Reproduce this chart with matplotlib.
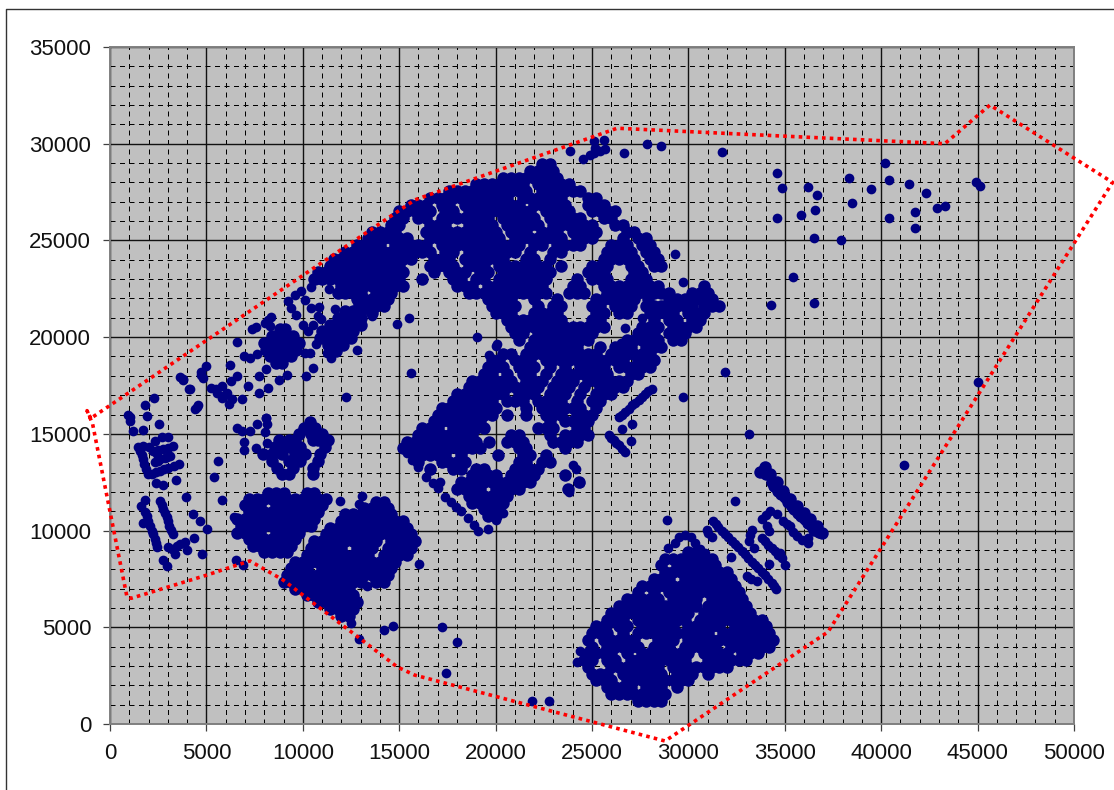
"""
plot.py
Site survey scatter: building points inside a dotted boundary.
Output: out.png
"""

import matplotlib
matplotlib.use("Agg")
import matplotlib.pyplot as plt
from matplotlib.lines import Line2D

X_TICKS = [0, 5000, 10000, 15000, 20000, 25000, 30000, 35000, 40000, 45000, 50000]
Y_TICKS = [0, 5000, 10000, 15000, 20000, 25000, 30000, 35000]
X_MINOR = [v for v in range(0, 50001, 1000) if v % 5000]
Y_MINOR = [v for v in range(0, 35001, 1000) if v % 5000]

boundary_x = [-1000, -1190, -900, 880, 1100, 5030, 6590, 7260, 8970, 14900, 15800, 28790,
              37240, 52000, 45640, 43300, 26300, 15820, -1000]
boundary_y = [15800, 16200, 15500, 6570, 6500, 7700, 8220, 8430, 7450, 2950, 2530, -880,
              4760, 28000, 32000, 30000, 30800, 27100, 15800]

# loose points, read one by one
lone_pts = [
    (950, 15950), (1040, 15860), (1040, 15690), (1210, 15140), (1700, 15220), (2560, 15520),
    (1900, 15900), (1820, 16470), (2280, 16840), (3770, 17820), (3630, 17930), (3810, 17760),
    (4080, 17330), (4410, 16260), (4590, 16500), (4500, 16380), (4740, 18020), (4700, 18200),
    (4840, 17880), (4970, 18500), (4160, 17300), (6210, 18540), (6590, 17990), (6250, 17730),
    (7150, 17470), (7720, 17970), (8100, 18330), (7720, 17110), (8180, 17390), (8740, 17780),
    (9200, 18040), (10150, 17970), (10540, 18430), (6850, 16820), (12230, 16920), (8100, 15840),
    (5220, 17390), (5480, 17300), (5820, 17470), (6080, 17130), (6330, 16780), (6160, 16520),
    (5820, 16870), (5560, 17130), (5950, 17000), (6590, 19760), (6930, 19020), (7240, 18930),
    (7620, 19140), (7360, 20430), (7580, 20530), (8210, 20910), (8040, 20740), (8300, 20600),
    (8350, 21050), (10100, 19190), (10350, 19190), (10690, 19660), (11260, 19190), (11460, 18930),
    (12800, 19360), (11690, 21460), (10450, 22600), (11380, 22490), (13570, 21080), (14880, 20700),
    (15500, 20970), (15620, 18130), (19040, 20030), (20000, 19550), (19650, 19090), (20060, 19650),
    (29300, 24280), (29700, 22870), (26720, 20490), (27590, 20970), (26490, 19690), (31920, 18220),
    (29700, 16930), (33140, 15000), (28880, 10540), (45020, 17680), (41180, 13390),
    (9240, 21860), (9580, 22200), (9920, 22370), (10100, 21940), (10440, 21510), (10780, 21080),
    (10520, 20650), (10270, 20310), (10000, 20650), (9670, 21170), (9410, 21510), (10830, 21560),
    (10950, 20960), (10690, 22980), (11210, 23230), (11630, 23490), (12230, 23840), (12600, 24100),
    (6570, 15310), (6870, 15140), (7270, 15140), (7610, 15520), (8100, 15810), (8130, 15520),
    (8040, 15090), (6950, 14570), (6950, 14190), (7560, 14280), (8160, 14530), (5620, 13620),
    (5410, 12780), (5810, 11600), (3940, 11760), (4290, 10860), (4670, 10470), (5030, 10090),
    (4380, 9620), (4760, 8780), (3030, 9140), (3460, 9220), (3890, 9400), (3370, 8790),
    (3980, 8970), (2770, 8500), (2980, 8190), (3200, 9050), (3650, 9300),
    (1470, 14310), (1640, 13910), (1760, 13450), (1950, 12930), (1730, 14360), (2340, 14650),
    (2680, 14830), (3030, 14850), (2250, 14090), (2770, 14220), (3290, 14360), (2510, 14150),
    (2340, 13530), (2600, 13700), (3120, 13850), (2850, 13770), (2160, 12930), (2600, 13100),
    (3030, 13240), (3580, 13450), (2390, 12470), (2770, 12380), (3430, 12640),
    (1550, 14100), (1700, 13680), (1850, 13200), (2000, 14300), (2450, 13950), (3000, 14290),
    (2500, 13610), (2970, 13800), (2380, 13020), (2810, 13170), (3300, 13350),
    (1820, 11600), (1590, 11260), (1820, 10950), (1990, 10520), (2160, 10000), (2340, 9570),
    (2460, 9140), (1730, 10400), (2080, 10250), (1900, 10750), (2250, 9800), (2400, 9350),
    (2600, 11550), (2770, 11120), (2940, 10690), (3080, 10260), (3250, 9830), (2690, 11330),
    (2860, 10900), (3010, 10470), (3170, 10040),
    (11940, 11520), (13060, 11810), (12890, 11380), (13320, 7150), (12490, 5220), (12890, 4400),
    (14190, 4860), (14670, 5050), (17430, 2640), (18000, 4240), (17220, 5020), (16030, 8270),
    (21890, 1190), (22770, 1190), (6440, 10690), (6540, 8500), (6920, 8220),
    (15380, 13990), (15640, 13650), (15980, 13300), (16410, 12790), (16670, 13130), (16750, 12450),
    (17100, 12530), (17010, 12190), (17400, 11730), (17690, 11500), (17950, 11240), (18200, 10990),
    (18560, 10640), (18900, 10300), (19090, 9990), (19600, 10060), (20020, 10560), (20360, 10900),
    (24040, 13380), (24170, 13200), (23600, 12850), (24380, 12470), (23800, 11990),
    (25870, 14930), (26130, 14670), (26390, 14420), (26700, 14040), (27000, 14620), (26560, 15270),
    (27070, 15530), (26000, 14800), (26260, 14550), (26550, 14230),
    (26390, 15870), (26560, 16000), (26730, 16130), (26900, 16300), (27070, 16470), (27250, 16600),
    (27420, 16730), (27590, 16900), (27760, 17070), (27930, 17200), (28100, 17330),
]

# far north east and along the top of the site
ne_pts = [
    (31720, 29580), (34580, 28510), (34860, 27720), (36180, 27740), (36670, 27360), (36580, 26590),
    (35820, 26310), (34580, 26180), (36490, 25130), (37930, 25030), (38310, 28230), (39460, 27640),
    (38500, 26960), (40220, 29000), (40430, 28130), (40410, 26180), (41450, 27940), (42320, 27450),
    (41770, 26480), (41750, 25630), (42910, 26680), (43290, 26760), (44910, 28040), (45110, 27810),
    (35450, 23110), (34270, 21650), (36490, 21760), (23860, 29600), (25100, 30150), (25640, 30200),
    (25680, 29720), (25160, 29770), (24900, 29420), (24550, 29210), (25100, 29520), (25400, 29600),
    (26680, 29520), (27830, 30010), (28580, 29900),
]

# thin bar and short strings north east of the south east block
se_thin_pts = [
    (31260, 10490), (31410, 10330), (31560, 10180),
    (31730, 10000), (31900, 9830), (32070, 9650), (32250, 9480), (32420, 9300), (32590, 9130),
    (32760, 8950), (32940, 8780), (33110, 8580), (33290, 8390), (33460, 8210), (33630, 8040),
    (33800, 7860), (33980, 7690), (34150, 7500), (34320, 7310), (34530, 6960), (34430, 7130),
    (31040, 9880), (30950, 10050), (31210, 9670), (32210, 8650), (33230, 7510), (33550, 7380),
    (33060, 7650), (34200, 8250), (32420, 11510), (33290, 10050), (33120, 9440), (33390, 9090),
    (33200, 9750), (33800, 10580), (34240, 11020), (34000, 10800), (34580, 10840), (34930, 10490),
    (35100, 10350), (35280, 10230), (35450, 9950), (35620, 9700), (36220, 9350), (36220, 9620),
    (35880, 9530), (34200, 9970), (34070, 10230), (33800, 9620), (33970, 9450), (34150, 9270),
    (34320, 9100), (34500, 8920), (34670, 8750), (34840, 8570), (35020, 8220), (34770, 8830),
    (24380, 3790), (24200, 3230), (29310, 9350), (29530, 9650), (29830, 9790), (30120, 9650),
    (30350, 9350), (30610, 9060), (28960, 9120), (30860, 8830), (25100, 4900), (25500, 5000),
    (25900, 5150),
]

# the thick bar, drawn with the dense rows
se_thick_pts = [
    (33980, 13290), (33720, 13030), (34240, 12940), (34580, 12500), (34930, 12070), (35280, 11630),
    (35620, 11280), (35970, 10930), (36310, 10580), (36660, 10230), (36920, 9880), (34320, 12500),
    (34670, 12070), (35020, 11720), (35360, 11280), (35710, 10930), (36050, 10580), (36400, 10230),
    (36750, 9950), (34000, 12950), (34450, 12300), (34800, 11900), (35150, 11480), (35490, 11100),
    (35840, 10750), (36180, 10400), (36530, 10050),
]

# dense parts, one (y, xs) row per line of the picture
blob_nw_rows = [
    (20400, [8800, 9100]),
    (20050, [8400, 8800, 9200, 9500]),
    (19700, [8000, 8350, 8750, 9150, 9550, 9800]),
    (19350, [8100, 8500, 8900, 9300, 9650]),
    (19000, [8300, 8700, 9100, 9400]),
    (18650, [8600, 8900]),
    (21700, [12900]),
    (21350, [12200, 12600, 13000]),
    (21000, [11800, 12200, 12600, 13000]),
    (20650, [11400, 11800, 12200, 12600, 13000]),
    (20300, [11000, 11400, 11800, 12200, 12600]),
    (19950, [10900, 11300, 11700, 12100, 12500]),
    (19600, [11300, 11700, 12100]),
    (19300, [11700]),
]

ring_west_rows = [
    (15600, [10380]),
    (15300, [10040, 10640]),
    (15000, [9780, 10400, 10990]),
    (14700, [8740, 9260, 9600, 10550, 10810, 11330]),
    (14300, [8560, 9000, 9340, 9860, 11160]),
    (13950, [7960, 8390, 8910, 9600, 10120, 10900]),
    (13600, [8390, 9260, 9860, 10810]),
    (13250, [8650, 9510, 10550]),
    (12950, [8910, 9260, 10550]),
]

oval_rows = [
    (11950, [8200, 8600, 9000, 10200, 10600]),
    (11650, [7200, 7600, 8000, 8400, 8800, 9200, 9600, 10000, 10400, 10800, 11200]),
    (11300, [7000, 7400, 7800, 8600, 9000, 9400, 9800, 10200, 10600, 11000]),
    (10950, [7200, 7600, 8000, 8400, 8800, 9200, 9600, 10000, 10400, 10800]),
    (10600, [6600, 7000, 7400, 7800, 8200, 8600, 9000, 9400, 9800, 10200, 10600]),
    (10250, [6800, 7200, 7600, 8000, 8400, 8800, 9200, 9600, 10000, 10400]),
    (9900, [6600, 7000, 7400, 7800, 8600, 9000, 9400, 9800]),
    (9550, [7200, 7600, 8000, 8400, 8800, 9200, 9600]),
    (9200, [7400, 7800, 8200, 8600, 9000, 9400]),
    (8900, [8000, 8400, 8800, 9200]),
]

sw_block_rows = [
    (11500, [13800, 14200]),
    (11150, [13200, 13600, 14000, 14400]),
    (10850, [12200, 12600, 13000, 13400, 13800, 14200, 14600]),
    (10500, [12000, 12400, 12800, 13200, 13600, 14000, 14400, 14800, 15200]),
    (10150, [11400, 11800, 12200, 12600, 13000, 13400, 13800, 14200, 14600, 15000, 15400]),
    (9800, [11200, 11600, 12000, 12400, 12800, 13200, 13600, 14000, 14400, 14800, 15200, 15600]),
    (9450, [10600, 11000, 11400, 11800, 12200, 12600, 13000, 13400, 13800, 14600, 15000, 15400, 15800]),
    (9100, [10400, 10800, 11200, 11600, 12000, 12800, 13200, 13600, 14400, 14800, 15200, 15600]),
    (8750, [10200, 10600, 11000, 11400, 11800, 12200, 12600, 13000, 13400, 14200, 14600, 15000, 15400]),
    (8400, [9600, 10000, 10400, 10800, 11200, 11600, 12000, 12400, 12800, 13200, 13600, 14000, 14400, 14800]),
    (8050, [9400, 9800, 10200, 11000, 11400, 11800, 12200, 12600, 13000, 13400, 13800, 14200, 14600]),
    (7700, [9200, 9600, 10000, 10400, 10800, 11200, 11600, 12000, 12400, 12800, 13200, 13600, 14000, 14400]),
    (7350, [9000, 9400, 9800, 10200, 10600, 11000, 11400, 11800, 12200, 12600, 13000, 13800, 14200]),
    (7000, [9600, 10000, 10400, 10800, 11200, 11600, 12000, 12400]),
    (6650, [10200, 10600, 11000, 11400, 11800, 12200, 12600]),
    (6300, [10800, 11200, 11600, 12000, 12400, 12800]),
    (5950, [11400, 11800, 12200, 12600]),
    (5600, [12000, 12400]),
]

central_rows = [
    (28950, [22400, 22800]),
    (28600, [21800, 22200, 22600, 23000]),
    (28250, [20400, 20800, 21200, 21600, 22000, 22400, 22800, 23200]),
    (27900, [19000, 19400, 19800, 20200, 20600, 21000, 21400, 22200, 22600, 23000, 23400, 23800]),
    (27550, [17600, 18000, 18400, 18800, 19200, 19600, 20000, 20400, 20800, 21200, 21600, 22400, 22800, 23200,
              23600, 24000, 24400]),
    (27200, [16600, 17000, 17400, 17800, 18200, 18600, 19000, 19400, 19800, 20200, 20600, 21400, 21800, 22200,
              22600, 23000, 23400, 24800, 25200]),
    (26850, [15600, 16000, 16400, 17200, 17600, 18400, 18800, 19200, 19600, 20000, 20400, 20800, 21200, 22000,
              22400, 22800, 23200, 23600, 24800, 25200, 25600]),
    (26500, [15000, 15400, 15800, 16200, 16600, 17400, 17800, 18600, 19000, 19400, 19800, 20200, 20600, 21000,
              21400, 21800, 22600, 23000, 23400, 23800, 25000, 25400, 25800, 26200]),
    (26150, [14800, 15200, 16000, 16400, 17200, 17600, 18000, 18400, 18800, 19200, 19600, 20400, 20800, 21200,
              21600, 22000, 22800, 23200, 23600, 24000, 24400, 25600, 26000]),
    (25800, [14600, 15000, 16600, 17000, 17400, 18600, 19000, 19400, 19800, 20600, 21000, 21400, 21800, 22200,
              23000, 23400, 23800, 24200, 24600, 25000, 26200, 26600]),
    (25450, [13600, 14000, 14400, 14800, 16400, 16800, 17200, 17600, 18000, 18400, 18800, 19200, 19600, 20000,
              20800, 21200, 21600, 22400, 22800, 23200, 24000, 24400, 24800, 25200, 26800, 27200]),
    (25100, [13400, 13800, 14200, 14600, 15000, 15400, 16600, 17000, 17400, 17800, 18200, 18600, 19000, 19400,
              19800, 20200, 21000, 21400, 21800, 22200, 22600, 23000, 23400, 24200, 24600, 25000, 26600, 27400,
              27800]),
    (24750, [12800, 13200, 13600, 14000, 14800, 15200, 15600, 16000, 16400, 17200, 17600, 18000, 18400, 18800,
              19200, 19600, 20000, 20400, 20800, 21200, 22000, 22400, 23200, 23600, 24000, 24400, 26000, 26400,
              26800, 27600, 28000]),
    (24400, [12200, 12600, 13000, 13400, 13800, 14200, 14600, 15000, 15400, 15800, 16200, 16600, 17400, 17800,
              18600, 19000, 19400, 19800, 20200, 20600, 21000, 21800, 23000, 23400, 25800, 26200, 26600, 27000,
              27800, 28200]),
    (24050, [11600, 12000, 12400, 12800, 13200, 13600, 14000, 14400, 14800, 15200, 15600, 16800, 17200, 17600,
              18400, 18800, 19200, 19600, 20000, 20400, 21600, 22000, 22800, 25600, 26000, 26400, 26800, 27200,
              28000, 28400]),
    (23700, [11400, 11800, 12200, 12600, 13000, 13400, 13800, 14200, 14600, 15000, 16600, 17000, 17400, 17800,
              18600, 19000, 19400, 20200, 20600, 21000, 21400, 21800, 22200, 22600, 23400, 25000, 25400, 25800,
              27000, 27400, 28200, 28600]),
    (23350, [10800, 11200, 11600, 12000, 12400, 12800, 13200, 13600, 14000, 14400, 14800, 15200, 16800, 17600,
              18000, 18400, 19200, 19600, 20400, 20800, 21200, 21600, 22000, 22400, 22800, 24800, 25200, 25600,
              27200, 27600]),
    (23000, [10600, 11000, 11400, 11800, 12200, 12600, 13000, 13400, 13800, 14200, 14600, 15000, 16200, 17800,
              18200, 19000, 19400, 20200, 20600, 21000, 21400, 21800, 22200, 22600, 24200, 25000, 25400, 25800,
              27000, 27400, 27800]),
    (22650, [12000, 12400, 12800, 13200, 13600, 14000, 14400, 14800, 15200, 18000, 18400, 18800, 19600, 20000,
              20400, 20800, 21200, 21600, 22000, 22400, 24000, 24400, 25600, 26000, 26400, 26800, 27200, 27600,
              28000, 28400, 30800]),
    (22300, [11800, 12200, 12600, 13000, 13800, 14200, 14600, 18600, 19000, 19400, 19800, 20200, 20600, 21000,
              21400, 21800, 22200, 22600, 23800, 24200, 24600, 25800, 26200, 26600, 27000, 27400, 27800, 28200,
              28600, 29000, 30200, 30600, 31000]),
    (21950, [12800, 13200, 13600, 14000, 14400, 19600, 20000, 20400, 20800, 22000, 23200, 25200, 25600, 26000,
              26400, 26800, 27200, 27900, 29000, 29400, 29800, 30400, 30800, 31200]),
    (21600, [13400, 13800, 14200, 19800, 20200, 20600, 21000, 22200, 23000, 23400, 25000, 25400, 26200, 26600,
              27000, 27800, 28200, 28600, 29000, 29400, 29800, 30200, 30800, 31200, 31600]),
    (21250, [13600, 20000, 20400, 20800, 22000, 22400, 22800, 23200, 25200, 25600, 26400, 26800, 28000, 28400,
              28800, 29200, 30000, 30400, 30800]),
    (20900, [20600, 21000, 21400, 21800, 22200, 22600, 23000, 23400, 25000, 25400, 28200, 29000, 29400, 30200,
              30600]),
    (20550, [20800, 21200, 21600, 22000, 22400, 22800, 23200, 23600, 24000, 24400, 24800, 25200, 25600, 27600,
              28000, 28400, 29200, 29600, 30000, 30400]),
    (20200, [21000, 21400, 22200, 22600, 23000, 23400, 23800, 24200, 24600, 25000, 27400, 27800, 28200, 29000,
              29400, 29800]),
    (19850, [21200, 22000, 22400, 22800, 23200, 23600, 24000, 24400, 24800, 26800, 27200, 27600, 28000, 28400,
              29200, 29600]),
    (19500, [21800, 22200, 22600, 23000, 23400, 23800, 24200, 25400, 26200, 26600, 27000, 27800, 28200, 28600]),
    (19150, [20400, 20800, 21600, 22000, 22400, 22800, 23200, 23600, 24000, 24400, 24800, 25200, 26000, 26400,
              26800, 27200, 27600, 28000]),
    (18800, [19800, 20200, 21000, 21400, 21800, 22600, 23000, 23400, 23800, 24200, 24600, 25000, 25400, 25800,
              26200, 26600, 27400, 27800, 28200]),
    (18450, [19600, 20000, 20400, 21200, 21600, 22000, 22800, 23600, 24400, 24800, 25200, 25600, 26400, 26800,
              27200, 27600, 28000]),
    (18100, [19400, 19800, 20600, 21400, 21800, 22600, 23400, 23800, 24200, 24600, 25000, 25400, 25800, 27000,
              27400]),
    (17750, [18800, 19200, 19600, 20000, 20400, 20800, 21600, 22000, 22400, 23200, 23600, 24000, 24800, 25200,
              25600, 26000, 26400, 26800]),
    (17400, [18600, 19000, 19400, 19800, 20200, 20600, 21000, 21400, 21800, 22200, 23000, 23400, 23800, 24600,
              25400, 25800, 26200, 26600]),
    (17050, [18000, 18400, 18800, 19200, 19600, 20000, 20400, 21200, 21600, 22000, 22800, 23200, 23600, 24400,
              25200, 25600, 26000]),
    (16700, [17800, 18200, 18600, 19000, 19400, 19800, 20600, 21000, 21400, 22200, 22600, 23000, 23400, 24200,
              25000, 25400]),
    (16350, [17200, 17600, 18000, 18400, 18800, 19200, 19600, 20000, 21600, 22400, 22800, 23200, 23600, 24000,
              24400, 25200]),
    (16000, [17000, 17400, 17800, 18200, 18600, 19000, 19400, 19800, 20600, 21600, 22600, 23000, 23400, 24200,
              24600, 25000]),
    (15650, [16800, 17200, 17600, 18000, 18400, 18800, 19200, 22800, 23600, 24000, 24400, 24800]),
    (15300, [16200, 16600, 17000, 17800, 18200, 18600, 19000, 19400, 22200, 22600, 23000, 24200, 24600]),
    (14950, [16000, 16400, 16800, 17200, 17600, 18000, 18400, 18800, 20800, 21200, 22800, 23600, 24000, 24400,
              24800]),
    (14600, [15400, 15800, 16200, 16600, 17000, 17400, 17800, 18200, 18600, 19000, 19680, 20600, 21000, 21400,
              23000, 23400, 23800, 24200]),
    (14250, [15200, 15600, 16000, 16400, 16800, 17200, 17600, 18000, 18400, 18800, 19200, 21200, 21600, 23600]),
    (13900, [15800, 16200, 16600, 17000, 17400, 18200, 20150, 21400, 21800, 22600]),
    (13550, [16000, 17200, 17600, 18000, 18400, 21200, 21600, 22400, 22800]),
    (13200, [16600, 17800, 18200, 19000, 19400, 21000, 21400, 21800, 22200]),
    (12850, [18800, 19200, 19600, 20000, 20800, 21200, 21600, 22000, 23580]),
    (12500, [18200, 18600, 19000, 19400, 19800, 20200, 20600, 21000, 21400, 21800, 24340]),
    (12150, [18000, 18400, 18800, 19200, 20000, 20400, 20800, 21200, 23750]),
    (11800, [18600, 19000, 19400, 19800, 20200, 20600]),
    (11450, [18800, 19200, 19600, 20000, 20400]),
    (11100, [19400, 19800, 20200]),
    (10750, [19600, 20000]),
]

se_block_rows = [
    (8900, [30000, 30400]),
    (8550, [28800, 29200, 29600, 30000, 30400, 30800, 31200]),
    (8200, [28600, 29400, 29800, 30200, 30600, 31000, 31400]),
    (7850, [28800, 29200, 29600, 30000, 30400, 30800, 31200, 31600, 32000]),
    (7500, [28200, 28600, 29000, 29800, 30200, 30600, 31000, 31400, 31800, 32200]),
    (7150, [27600, 28000, 28400, 28800, 29200, 29600, 30000, 30400, 30800, 31200, 31600, 32000, 32400]),
    (6800, [27400, 28200, 29000, 29400, 29800, 30200, 30600, 31000, 31400, 31800, 32200, 32600]),
    (6450, [26800, 27200, 27600, 28000, 28400, 29200, 29600, 30000, 30400, 31200, 31600, 32000, 32400, 32800]),
    (6100, [26400, 26800, 27200, 27600, 28000, 28400, 28800, 29200, 29600, 30000, 30400, 31000, 31400, 31800,
            32200, 32600, 33000]),
    (5750, [26000, 26400, 26800, 27200, 27600, 28000, 28400, 28800, 29200, 29600, 30000, 30800, 31200, 31600,
            32000, 32400, 32800, 33200]),
    (5400, [25800, 26200, 26600, 27400, 27800, 28200, 28600, 29000, 29400, 29800, 30600, 31000, 31400, 31800,
            32200, 32600, 33000, 33400, 33800]),
    (5050, [25200, 25600, 26400, 26800, 27600, 28000, 28400, 28800, 29200, 30000, 30400, 30800, 31200, 31600,
            32400, 32800, 33200, 33600, 34000]),
    (4700, [25000, 25400, 25800, 26600, 27400, 27800, 28200, 28600, 29000, 29400, 29800, 30200, 30600, 31000,
            31800, 32200, 32600, 33000, 33400, 33800, 34200]),
    (4350, [24800, 25600, 26000, 26400, 26800, 27200, 28400, 28800, 29200, 30000, 30400, 30800, 31200, 31600,
            32000, 32400, 32800, 33200, 33600, 34000, 34400]),
    (4000, [25000, 25800, 26200, 26600, 27000, 27400, 28200, 28600, 29000, 29800, 30200, 30600, 31000, 31400,
            32200, 32600, 33000, 33400, 33800, 34200]),
    (3650, [24800, 25200, 25600, 26000, 26800, 27600, 28000, 28400, 28800, 29200, 29600, 30000, 30800, 31200,
            31600, 32000, 32800, 33200, 33600]),
    (3300, [24600, 25000, 25800, 26200, 27000, 27400, 27800, 28200, 28600, 29000, 29400, 29800, 31000, 31400,
            31800, 32200, 32600, 33000]),
    (2950, [24800, 26000, 26400, 26800, 27200, 27600, 28000, 28400, 29200, 29600, 30000, 30400, 30800, 31200,
            31600, 32000]),
    (2600, [25000, 25400, 25800, 26600, 27000, 27400, 27800, 28200, 28600, 29400, 29800, 30200, 31000]),
    (2250, [25200, 25600, 26000, 26800, 27200, 27600, 28000, 28400, 28800, 29200, 29600, 30000]),
    (1900, [25800, 26200, 26600, 27000, 27800, 28200, 28600, 29400]),
    (1550, [26000, 26400, 26800, 27200, 27600, 28000, 28400, 28800]),
    (1200, [27400, 27800, 28200, 28600]),
]


def flatten_rows(rows):
    xs, ys = [], []
    for y, row_xs in rows:
        xs.extend(row_xs)
        ys.extend([y] * len(row_xs))
    return xs, ys


def main():
    plt.rcParams["font.family"] = ["Liberation Sans", "DejaVu Sans"]
    fig = plt.figure(figsize=(11.14, 7.9), dpi=100, facecolor="white")
    ax = fig.add_axes([110 / 1114, 1 - 724 / 790, 964 / 1114, 677 / 790])
    ax.set_facecolor("#c0c0c0")
    ax.set_xlim(0, 50000)
    ax.set_ylim(0, 35000)

    # gridlines
    ax.set_xticks(X_TICKS)
    ax.set_yticks(Y_TICKS)
    ax.set_xticks(X_MINOR, minor=True)
    ax.set_yticks(Y_MINOR, minor=True)
    ax.set_axisbelow(True)
    ax.grid(True, which="major", color="#111111", linewidth=1.0)
    ax.grid(True, which="minor", color="black", linewidth=0.72, linestyle=(0, (5, 4.5)))
    ax.tick_params(which="minor", length=0)
    ax.tick_params(which="major", length=5, width=0.9, color="#404040", labelsize=16,
                   labelcolor="#111111")
    ax.tick_params(axis="y", which="major", pad=8.5)
    ax.tick_params(axis="x", which="major", pad=9)
    for spine in ax.spines.values():
        spine.set_color("#808080")
        spine.set_linewidth(1.4)

    # loose points
    xs = [p[0] for p in lone_pts + ne_pts + se_thin_pts]
    ys = [p[1] for p in lone_pts + ne_pts + se_thin_pts]
    ax.plot(xs, ys, linestyle="none", marker="o", markersize=7.0, markeredgewidth=0,
            color="#000080", zorder=3)

    # dense rows
    xs = [p[0] for p in se_thick_pts]
    ys = [p[1] for p in se_thick_pts]
    for rows in (blob_nw_rows, ring_west_rows, oval_rows, sw_block_rows, central_rows, se_block_rows):
        row_x, row_y = flatten_rows(rows)
        xs.extend(row_x)
        ys.extend(row_y)
    ax.plot(xs, ys, linestyle="none", marker="o", markersize=9.0, markeredgewidth=0,
            color="#000080", zorder=3)

    # site boundary runs over the axes edge
    ax.plot(boundary_x, boundary_y, color="#ff0000", linewidth=2.6,
            linestyle=(0, (1.0, 1.15)), clip_on=False, zorder=4)

    # frame of the pasted chart, cut off by the image edge
    fig.add_artist(Line2D([6 / 1114, 6 / 1114, 1], [0, 1 - 9 / 790, 1 - 9 / 790],
                          color="#333333", linewidth=1.0))

    fig.savefig("out.png", dpi=100)
    plt.close(fig)


if __name__ == "__main__":
    main()
